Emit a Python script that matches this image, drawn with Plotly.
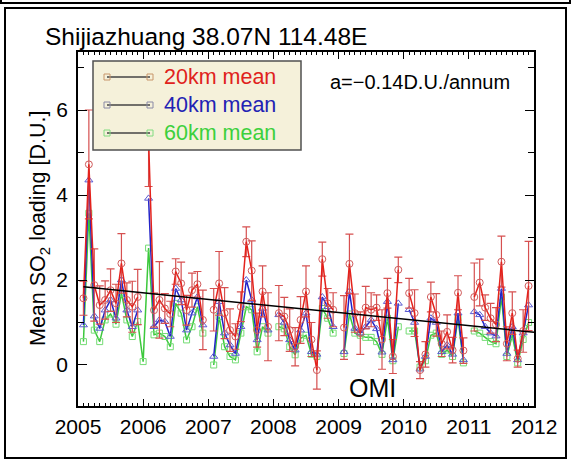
import plotly.graph_objects as go

# ---------------- data (monthly, Jan 2005 .. Dec 2011) ----------------
start_year = 2005
n_months = 84

so2_20km = [1.57, 4.72, 1.88, 1.41, 1.53, 1.76, 1.45, 2.39, 1.53, 1.37, 1.60, None,
            5.30, 1.29, 1.53, 1.33, 1.20, 2.20, 1.92, 1.29, 1.76, 1.90, 1.06, None,
            1.30, 1.92, 1.22, 0.82, 0.67, 1.37, 2.90, 2.22, 0.82, 1.73, 0.90, None,
            1.22, 1.14, 0.82, 0.43, 1.06, 1.73, 0.60, -0.12, 2.49, 1.45, 1.30, None,
            0.88, 2.38, 1.22, 0.75, 1.35, 1.30, 1.35, 0.60, 1.69, 0.20, 2.24, None,
            1.69, 1.22, -0.12, 0.25, 1.60, 1.18, 0.50, 0.78, 0.35, 1.70, 0.34, None,
            1.60, 1.94, 1.35, 1.10, 0.95, 2.43, 0.50, 1.22, 0.15, 0.80, 1.86, None]

err_20km = [0.40, 1.28, 0.85, 0.45, 0.45, 0.50, 0.45, 0.70, 0.40, 0.60, 0.65, None,
            1.10, 0.40, 0.90, 0.35, 0.30, 0.30, 0.50, 0.35, 0.40, 0.30, 0.70, None,
            0.50, 0.75, 0.60, 0.50, 0.30, 0.35, 0.35, 0.70, 0.40, 0.60, 0.80, None,
            0.65, 0.45, 0.50, 0.45, 0.55, 0.60, 0.40, 0.45, 0.40, 0.35, 0.40, None,
            0.75, 0.70, 0.45, 0.50, 0.50, 0.40, 0.30, 0.70, 0.35, 0.40, 0.30, None,
            0.35, 0.55, 0.20, 0.30, 0.35, 0.50, 0.30, 0.40, 0.30, 0.40, 0.30, None,
            0.80, 0.55, 0.30, 0.35, 0.40, 0.60, 0.40, 0.50, 0.20, 0.50, 1.05, None]

so2_40km = [0.94, 4.35, 1.15, 0.86, 1.29, 1.53, 1.10, 2.00, 1.29, 0.90, 1.29, None,
            3.92, 0.90, 1.06, 1.02, 0.67, 1.80, 1.53, 0.82, 1.22, 1.60, 0.94, None,
            0.20, 1.49, 0.75, 0.47, 0.27, 0.90, 2.00, 1.53, 0.59, 1.33, 0.82, None,
            1.18, 1.00, 0.59, 0.35, 0.82, 1.22, 0.31, 0.25, 1.60, 1.37, 0.90, None,
            0.31, 1.73, 0.86, 0.75, 0.90, 1.06, 0.85, 0.30, 1.49, 0.12, 1.45, None,
            1.30, 1.00, -0.10, 0.20, 1.10, 1.00, 0.31, 0.47, 0.25, 1.22, 0.12, None,
            1.25, 1.18, 0.90, 0.75, 0.68, 1.80, 0.27, 0.90, 0.12, 0.75, 1.41, None]

so2_60km = [0.55, 3.57, 0.82, 0.55, 1.06, 1.20, 0.96, 1.69, 1.06, 0.67, 1.02, 0.08,
            2.75, 0.71, 0.75, 0.67, 0.43, 1.45, 1.22, 0.59, 0.90, 1.37, 0.75, None,
            0.00, 1.14, 0.43, 0.20, 0.12, 0.75, 1.37, 1.30, 0.31, 0.90, 0.75, None,
            0.90, 0.85, 0.43, 0.24, 0.63, 0.70, 0.25, 0.20, 1.33, 1.10, 0.75, None,
            0.27, 1.20, 0.75, 0.70, 0.65, 0.65, 0.55, 0.25, 1.10, 0.10, 0.90, None,
            0.80, 0.80, -0.05, 0.10, 0.70, 0.75, 0.25, 0.35, 0.20, 1.10, 0.05, None,
            0.80, 0.75, 0.65, 0.55, 0.50, 1.60, 0.20, 0.70, 0.05, 0.60, 1.00, None]

trend_x = [2005.083, 2012.0]
trend_y = [1.84, 0.77]

x_ticks = [2005, 2006, 2007, 2008, 2009, 2010, 2011, 2012]
y_ticks = [0, 2, 4, 6]

series_names = ["20km mean", "40km mean", "60km mean"]

# time coordinate: each month plotted at year + month/12
t = [start_year + (k + 1) / 12 for k in range(n_months)]

FONT = "Liberation Sans, Arial, Helvetica, sans-serif"

fig = go.Figure()

fig.add_trace(go.Scatter(
    x=t, y=so2_60km, mode="lines+markers", name=series_names[2],
    line=dict(color="#3cc83c", width=1.5),
    marker=dict(symbol="square-open", size=6, color="#74dc74", line=dict(width=1)),
    connectgaps=False, showlegend=False))

fig.add_trace(go.Scatter(
    x=t, y=so2_40km, mode="lines+markers", name=series_names[1],
    line=dict(color="#2424c8", width=1.5),
    marker=dict(symbol="triangle-up-open", size=7, color="#5a5ad2", line=dict(width=1)),
    connectgaps=False, showlegend=False))

fig.add_trace(go.Scatter(
    x=t, y=so2_20km, mode="lines+markers", name=series_names[0],
    line=dict(color="#e4221c", width=1.5),
    marker=dict(symbol="circle-open", size=7, color="#d05a5a", line=dict(width=1)),
    error_y=dict(type="data", array=err_20km, visible=True,
                 color="#d65050", thickness=1.2, width=4),
    connectgaps=False, showlegend=False))

fig.add_trace(go.Scatter(
    x=trend_x, y=trend_y, mode="lines",
    line=dict(color="black", width=1.5), showlegend=False))

# ---------------- layout ----------------
L, R, T, B = 78, 37, 52, 54
W, H = 571, 460
pw, ph = W - L - R, H - T - B


def px(xp):
    return (xp - L) / pw


def py(yp):
    return (H - B - yp) / ph


axis_common = dict(
    showline=True, linecolor="black", linewidth=1.5, mirror="allticks",
    ticks="inside", tickcolor="black", showgrid=False, zeroline=False,
    tickfont=dict(family=FONT, size=21, color="black"),
)

fig.update_layout(
    width=W, height=H,
    margin=dict(l=L, r=R, t=T, b=B),
    paper_bgcolor="white", plot_bgcolor="white",
    font=dict(family=FONT, color="black"),
    xaxis=dict(range=[2005, 2012], tickvals=x_ticks, ticktext=[str(v) for v in x_ticks],
               ticklen=7, tickwidth=1.2, ticklabelstandoff=1,
               minor=dict(dtick=1 / 12, tick0=2005, ticks="inside", ticklen=3,
                          tickcolor="black", tickwidth=1, showgrid=False),
               **axis_common),
    yaxis=dict(range=[-0.965, 7.365], tickvals=y_ticks, ticktext=[str(v) for v in y_ticks],
               ticklen=9, tickwidth=1.2, ticklabelstandoff=4,
               minor=dict(dtick=1, tick0=1, ticks="inside", ticklen=6,
                          tickcolor="black", tickwidth=1, showgrid=False),
               **axis_common),
    showlegend=False,
)

shapes = []
# outer frames
shapes.append(dict(type="rect", xref="paper", yref="paper",
                   x0=px(5), x1=px(566), y0=py(458), y1=py(8),
                   line=dict(color="black", width=2), fillcolor="rgba(0,0,0,0)", layer="below"))
shapes.append(dict(type="rect", xref="paper", yref="paper",
                   x0=px(1), x1=px(570), y0=py(3), y1=py(-3),
                   line=dict(color="black", width=2), fillcolor="rgba(0,0,0,0)", layer="below"))
# legend box
shapes.append(dict(type="rect", xref="paper", yref="paper",
                   x0=px(93), x1=px(301), y0=py(150), y1=py(61),
                   line=dict(color="#505050", width=1.5), fillcolor="#f5f1da", layer="above"))

legend_rows = [77, 105, 133]
legend_text_colors = ["#e0221c", "#2222b4", "#3cd03c"]
legend_marker_colors = ["#c8966a", "#8a8aa6", "#80dc80"]
annotations = []
for yrow, name, tc, mc in zip(legend_rows, series_names, legend_text_colors, legend_marker_colors):
    shapes.append(dict(type="line", xref="paper", yref="paper",
                       x0=px(107), x1=px(150), y0=py(yrow), y1=py(yrow),
                       line=dict(color="#444444", width=1.3), layer="above"))
    for xm in (107, 150):
        shapes.append(dict(type="rect", xref="paper", yref="paper",
                           x0=px(xm - 3), x1=px(xm + 3), y0=py(yrow + 3), y1=py(yrow - 3),
                           line=dict(color=mc, width=1), fillcolor="rgba(0,0,0,0)", layer="above"))
    annotations.append(dict(xref="paper", yref="paper", x=px(162), y=py(yrow),
                            xanchor="left", yanchor="middle", showarrow=False,
                            text=name, font=dict(family=FONT, size=21.5, color=tc)))

annotations += [
    dict(xref="paper", yref="paper", x=px(43), y=py(37), xanchor="left", yanchor="middle",
         showarrow=False, text="Shijiazhuang 38.07N 114.48E",
         font=dict(family=FONT, size=24.5, color="black")),
    dict(xref="paper", yref="paper", x=px(420), y=py(82), xanchor="center", yanchor="middle",
         showarrow=False, text="a=\u22120.14D.U./annum",
         font=dict(family=FONT, size=20, color="black")),
    dict(xref="paper", yref="paper", x=px(372), y=py(388), xanchor="center", yanchor="middle",
         showarrow=False, text="OMI",
         font=dict(family=FONT, size=25, color="black")),
    dict(xref="paper", yref="paper", x=px(39), y=py(229), xanchor="center", yanchor="middle",
         showarrow=False, textangle=-90, text="Mean SO<sub>2</sub> loading [D.U.]",
         font=dict(family=FONT, size=21.5, color="black")),
]

fig.update_layout(shapes=shapes, annotations=annotations)

fig.write_html("out.html")
